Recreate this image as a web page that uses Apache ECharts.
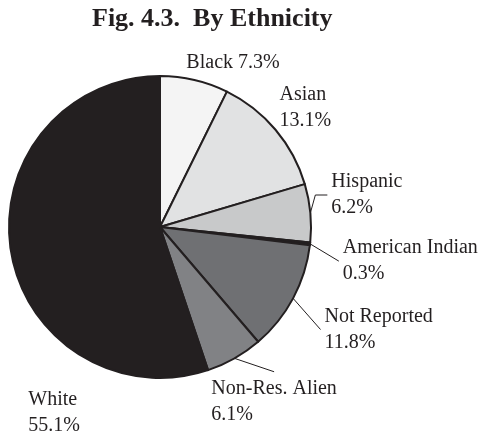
<!DOCTYPE html>
<html>
<head>
<meta charset="utf-8">
<script src="https://cdn.jsdelivr.net/npm/echarts@6/dist/echarts.min.js"></script>
<style>
  html, body { margin: 0; padding: 0; background: #fff; }
  #chart { width: 494px; height: 437px; }
</style>
</head>
<body>
<div id="chart"></div>
<script>
// slices, clockwise from 12 o'clock
const categories = ['Black', 'Asian', 'Hispanic', 'American Indian', 'Not Reported', 'Non-Res. Alien', 'White'];
const shares = [7.3, 13.1, 6.2, 0.3, 11.8, 6.1, 55.1];

const fills = ['#f4f4f4', '#e1e2e3', '#c8c9ca', '#231f20', '#6f7073', '#818285', '#231f20'];
// leader line lengths per slice [length, length2, visible]
const leaders = [[0, 0, false], [0, 0, false], [0, 12, true], [30, 0, true], [30, 0, true], [20, 0, true], [0, 0, false]];
// label nudge from the default spot [dx, dy]
const nudges = [[-17, -17], [-5, -22], [0, -18], [-6, 14], [-4, 17], [-42, 26], [78, 161]];

const ink = '#231f20';
const serif = '"Liberation Serif", "DejaVu Serif", serif';

let chart = echarts.init(document.getElementById('chart'));

let data = categories.map(function (name, i) {
  return {
    name: name,
    value: shares[i],
    itemStyle: { color: fills[i] },
    labelLine: {
      show: leaders[i][2],
      length: leaders[i][0],
      length2: leaders[i][1]
    }
  };
});

let option = {
  backgroundColor: '#fff',
  animation: false,
  title: {
    text: 'Fig. 4.3.  By Ethnicity',
    left: 87,
    top: 1,
    textStyle: {
      fontFamily: serif,
      fontWeight: 'bold',
      fontSize: 26,
      color: ink
    }
  },
  series: [
    {
      type: 'pie',
      center: [160, 227],
      radius: 151,
      startAngle: 90,
      clockwise: true,
      avoidLabelOverlap: false,
      silent: true,
      itemStyle: {
        borderColor: ink,
        borderWidth: 2
      },
      label: {
        show: true,
        position: 'outside',
        fontFamily: serif,
        fontSize: 20,
        lineHeight: 26,
        color: ink,
        padding: 4,
        formatter: function (p) {
          return p.dataIndex === 0 ? p.name + ' ' + p.value + '%' : p.name + '\n' + p.value + '%';
        }
      },
      labelLine: {
        lineStyle: { color: ink, width: 1 }
      },
      labelLayout: function (p) {
        let n = nudges[p.dataIndex];
        return {
          x: p.labelRect.x + n[0],
          y: p.labelRect.y + p.labelRect.height / 2 + n[1],
          align: 'left',
          verticalAlign: 'middle'
        };
      },
      data: data
    }
  ]
};

chart.setOption(option);
</script>
</body>
</html>
